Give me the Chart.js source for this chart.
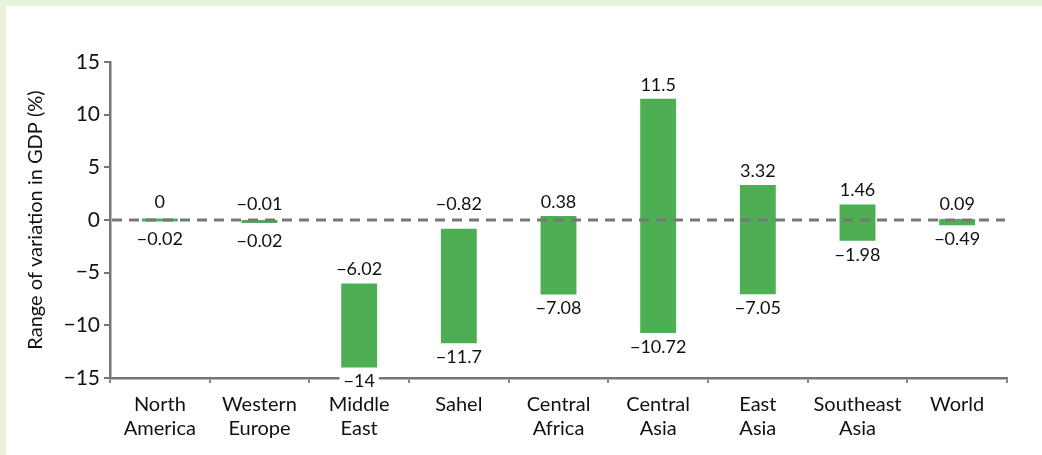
<!DOCTYPE html>
<html>
<head>
<meta charset="utf-8">
<script src="https://cdn.jsdelivr.net/npm/chart.js@4/dist/chart.umd.min.js"></script>
<style>
  html, body { margin: 0; padding: 0; }
  body { background: #e9f3dc; width: 1042px; height: 455px; position: relative; overflow: hidden; }
  #panel { position: absolute; left: 6px; top: 6px; right: 0; bottom: 0; background: #fff; }
  #wrap { position: absolute; left: 0; top: 0; width: 1042px; height: 455px; }
</style>
</head>
<body>
<div id="panel"></div>
<div id="wrap"><canvas id="chart"></canvas></div>
<script>
// regions on the x axis
const regions = [
  ["North", "America"], ["Western", "Europe"], ["Middle", "East"], "Sahel",
  ["Central", "Africa"], ["Central", "Asia"], ["East", "Asia"], ["Southeast", "Asia"], "World"
];
// lowest and highest variation in GDP (%)
const lowValues = [-0.02, -0.02, -14, -11.7, -7.08, -10.72, -7.05, -1.98, -0.49];
const highValues = [0, -0.01, -6.02, -0.82, 0.38, 11.5, 3.32, 1.46, 0.09];
const yTicks = [-15, -10, -5, 0, 5, 10, 15];

const FONT = "Lato, 'Open Sans', sans-serif";

function fmt(v) {
  return v < 0 ? "\u2212" + Math.abs(v) : String(v);
}

// draws the dashed zero line and the min / max labels
const rangeLabels = {
  id: "rangeLabels",
  afterDatasetsDraw(chart) {
    const ctx = chart.ctx;
    const area = chart.chartArea;
    const y = chart.scales.y;
    const y0 = y.getPixelForValue(0);

    ctx.save();
    ctx.strokeStyle = "#777";
    ctx.lineWidth = 3;
    ctx.setLineDash([10, 7]);
    ctx.beginPath();
    ctx.moveTo(area.left + 2, y0);
    ctx.lineTo(area.right - 2, y0);
    ctx.stroke();
    ctx.setLineDash([]);

    ctx.font = "18px " + FONT;
    ctx.textAlign = "center";
    ctx.fillStyle = "#111";
    const meta = chart.getDatasetMeta(0);
    meta.data.forEach((bar, i) => {
      const top = Math.min(bar.y, bar.base);
      const bottom = Math.max(bar.y, bar.base);
      const small = bottom - top < 6;
      // keep the upper label clear of the zero line
      let hy = top - (small ? 7 : 5);
      if (hy > y0 - 6 && hy - 20 < y0 + 3) hy = y0 - 7;
      ctx.textBaseline = "bottom";
      ctx.fillText(fmt(highValues[i]), bar.x, hy);
      const lowText = fmt(lowValues[i]);
      const ly = bottom + (small ? 9 : 5);
      if (ly + 16 > area.bottom - 4) {
        // label sits on the axis, clear a white box behind it
        const w = ctx.measureText(lowText).width;
        ctx.fillStyle = "#fff";
        ctx.fillRect(bar.x - w / 2 - 4, ly, w + 8, 19);
        ctx.fillStyle = "#111";
      }
      ctx.textBaseline = "top";
      ctx.fillText(lowText, bar.x, ly);
    });
    ctx.restore();
  }
};

new Chart(document.getElementById("chart"), {
  type: "bar",
  data: {
    labels: regions,
    datasets: [{
      data: lowValues.map((lo, i) => [lo, highValues[i]]),
      backgroundColor: "#4dae53",
      borderWidth: 0,
      minBarLength: 3,
      barPercentage: 0.36,
      categoryPercentage: 1
    }]
  },
  options: {
    responsive: true,
    maintainAspectRatio: false,
    animation: false,
    layout: { padding: { top: 62, right: 35, bottom: 0, left: 0 } },
    plugins: {
      legend: { display: false },
      tooltip: { enabled: false }
    },
    scales: {
      x: {
        grid: {
          offset: true,
          drawOnChartArea: false,
          tickLength: 5,
          color: "#888",
          lineWidth: 2
        },
        border: { color: "#777", width: 2.5 },
        ticks: {
          color: "#111",
          padding: 10,
          maxRotation: 0,
          autoSkip: false,
          font: { family: FONT, size: 20, lineHeight: 1.2 }
        },
        afterFit(scale) { scale.height = 77; }
      },
      y: {
        min: -15,
        max: 15,
        afterBuildTicks(scale) { scale.ticks = yTicks.map(v => ({ value: v })); },
        grid: {
          drawOnChartArea: false,
          tickLength: 6,
          color: "#777",
          lineWidth: 2
        },
        border: { color: "#777", width: 2.5 },
        ticks: {
          color: "#111",
          padding: 4,
          font: { family: FONT, size: 21 },
          callback: v => fmt(v)
        },
        title: {
          display: true,
          text: "Range of variation in GDP (%)",
          color: "#111",
          padding: { top: 24, bottom: 0 },
          font: { family: FONT, size: 20 }
        },
        afterFit(scale) { scale.width = 110; }
      }
    }
  },
  plugins: [rangeLabels]
});
</script>
</body>
</html>
